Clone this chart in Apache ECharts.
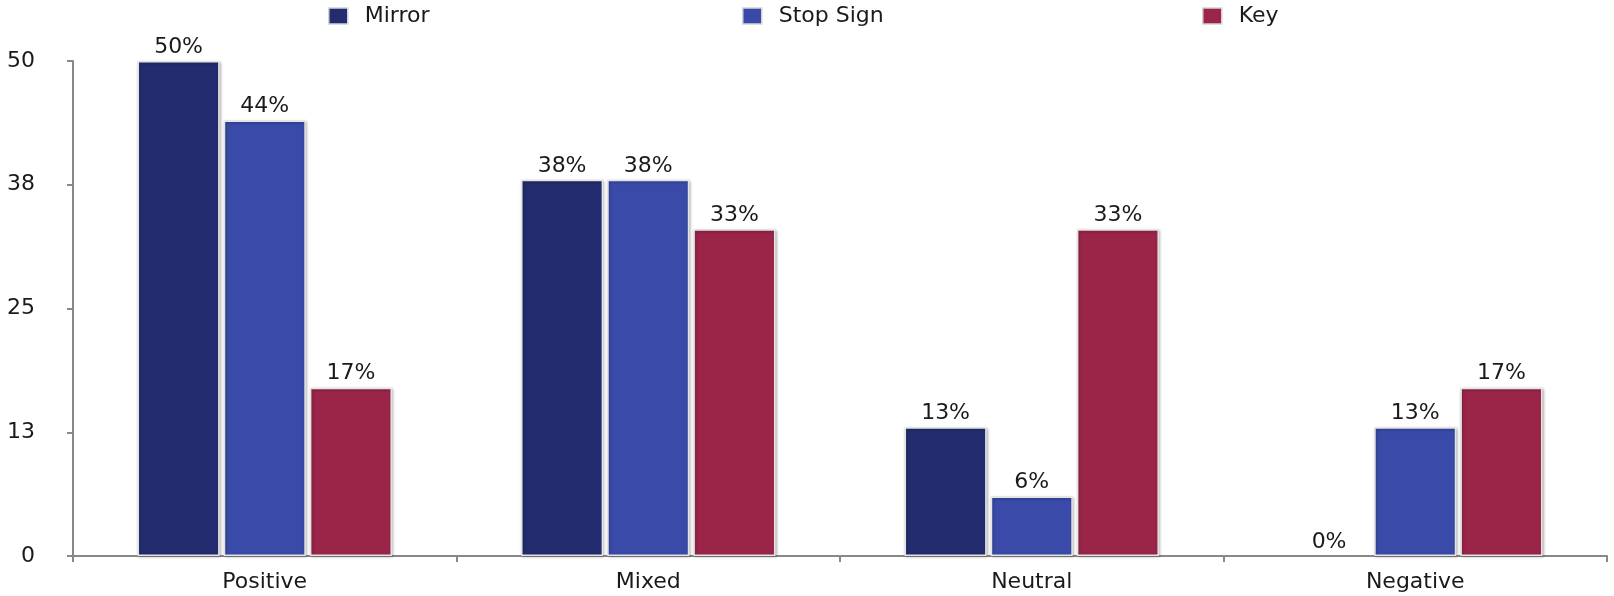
<!DOCTYPE html>
<html>
<head>
<meta charset="utf-8">
<script src="https://cdn.jsdelivr.net/npm/echarts@6/dist/echarts.min.js"></script>
<style>
html,body{margin:0;padding:0;background:#fff;}
#chart{width:1614px;height:596px;}
</style>
</head>
<body>
<div id="chart"></div>
<script>
var categories = ['Positive', 'Mixed', 'Neutral', 'Negative'];
var seriesNames = ['Mirror', 'Stop Sign', 'Key'];
var mirror = [50, 38, 13, 0];
var stopSign = [44, 38, 6, 13];
var key = [17, 33, 33, 17];
var yTickLabels = ['0', '13', '25', '38', '50'];
var colors = ['#232C6F', '#3A4AA8', '#9A2549'];

var font = '"DejaVu Sans", "Liberation Sans", Arial, sans-serif';
var chart = echarts.init(document.getElementById('chart'));

function makeSeries(name, data, color) {
  return {
    name: name,
    type: 'bar',
    data: data.map(function (v) {
      return v === 0 ? { value: v, itemStyle: { borderWidth: 0, shadowBlur: 0, shadowOffsetX: 0, shadowOffsetY: 0 } } : v;
    }),
    barWidth: '21.4%',
    barGap: '5%',
    itemStyle: {
      color: color,
      borderColor: '#e4e4e4',
      borderWidth: 1.5,
      shadowColor: 'rgba(0,0,0,0.3)',
      shadowBlur: 3,
      shadowOffsetX: 1,
      shadowOffsetY: 1
    },
    label: {
      show: true,
      position: 'top',
      distance: 3,
      formatter: '{c}%',
      color: '#1a1a1a',
      fontSize: 22,
      fontFamily: font
    }
  };
}

function legendFor(name, left) {
  return {
    data: [name],
    left: left,
    top: 5,
    padding: 0,
    icon: 'rect',
    itemWidth: 19,
    itemHeight: 16,
    itemStyle: { borderColor: '#d4d4d4', borderWidth: 1.5 },
    textStyle: { fontSize: 22, color: '#1a1a1a', fontFamily: font, padding: [0, 0, 0, 12] }
  };
}

chart.setOption({
  animation: false,
  color: colors,
  legend: [legendFor(seriesNames[0], 328), legendFor(seriesNames[1], 742), legendFor(seriesNames[2], 1202)],
  grid: { left: 73, right: 7, top: 61, bottom: 40, containLabel: false },
  xAxis: {
    type: 'category',
    data: categories,
    axisLine: { lineStyle: { color: '#888', width: 2 } },
    axisTick: { show: true, alignWithLabel: false, length: 6, lineStyle: { color: '#888', width: 2 } },
    axisLabel: { color: '#1a1a1a', fontSize: 22, fontFamily: font, margin: 15 }
  },
  yAxis: {
    type: 'value',
    min: 0,
    max: 50,
    interval: 12.5,
    axisLine: { show: true, lineStyle: { color: '#888', width: 2 } },
    axisTick: { show: true, length: 6, lineStyle: { color: '#888', width: 2 } },
    splitLine: { show: false },
    axisLabel: {
      color: '#1a1a1a', fontSize: 22, fontFamily: font, margin: 38,
      formatter: function (v) { return yTickLabels[Math.round(v / 12.5)]; }
    }
  },
  series: [
    makeSeries(seriesNames[0], mirror, colors[0]),
    makeSeries(seriesNames[1], stopSign, colors[1]),
    makeSeries(seriesNames[2], key, colors[2])
  ]
});
</script>
</body>
</html>
